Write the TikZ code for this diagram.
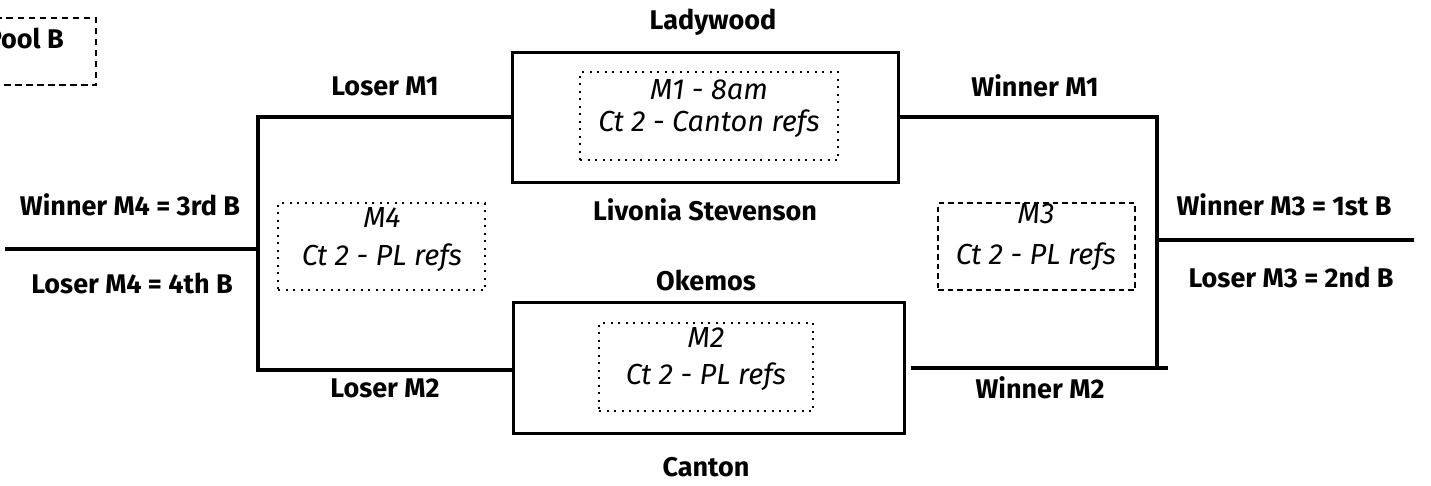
\documentclass[tikz,border=0pt]{standalone}
\usepackage{fontspec}
\setmainfont{Fira Sans}
\begin{document}
\begin{tikzpicture}[x=1pt,y=-1pt,
  lbl/.style={font=\bfseries\fontsize{27}{30}\selectfont, inner sep=0pt, anchor=center},
  gm/.style={font=\itshape\fontsize{29}{33}\selectfont, inner sep=0pt, anchor=center},
  wire/.style={line width=3.4pt},
  outerbox/.style={draw, line width=3pt, inner sep=0pt},
  dotbox/.style={draw, line width=2pt, dash pattern=on 2pt off 5.5pt, inner sep=0pt},
  dashbox/.style={draw, line width=2pt, dash pattern=on 5.5pt off 4pt, inner sep=0pt}]
\useasboundingbox (0,0) rectangle (1431,485);
% Pool B box (cut off)
\node[draw, line width=2.4pt, dash pattern=on 6.5pt off 4.5pt, minimum width=180pt, minimum height=67pt, inner sep=0pt] (pool) at (6,51.5) {};
\node[lbl, anchor=east] (pooltxt) at (64,38) {Pool B};
% M1 box
\node[outerbox, minimum width=386pt, minimum height=130pt] (m1box) at (705,117) {};
\node[dotbox, minimum width=258pt, minimum height=88pt] (m1in) at (709,116) {};
\node[gm] (m1a) at (709,90) {M1 - 8am};
\node[gm] (m1b) at (709,124) {Ct 2 - Canton refs};
\node[lbl] (lady) at (713,22) {Ladywood};
\node[lbl] (livo) at (705,210) {Livonia Stevenson};
% M2 box
\node[outerbox, minimum width=391pt, minimum height=131pt] (m2box) at (708.5,367.5) {};
\node[dotbox, minimum width=214pt, minimum height=88pt] (m2in) at (706,367) {};
\node[gm] (m2a) at (706,338) {M2};
\node[gm] (m2b) at (706,377) {Ct 2 - PL refs};
\node[lbl] (okem) at (706,280) {Okemos};
\node[lbl] (cant) at (706,467) {Canton};
% M4 box
\node[dotbox, minimum width=207pt, minimum height=87pt] (m4in) at (381.5,246.5) {};
\node[gm] (m4a) at (382,218) {M4};
\node[gm] (m4b) at (382,258) {Ct 2 - PL refs};
% M3 box
\node[dashbox, minimum width=197pt, minimum height=87pt] (m3in) at (1036.5,246.5) {};
\node[gm] (m3a) at (1036,214) {M3};
\node[gm] (m3b) at (1036,257) {Ct 2 - PL refs};
% connectors
\coordinate (lt) at (258,117);
\coordinate (lb) at (258,370);
\coordinate (lm) at (258,249);
\coordinate (lend) at (5,249);
\coordinate (rt) at (1157,117);
\coordinate (rb) at (1157,368);
\coordinate (rbend) at (1168,368);
\coordinate (rm) at (1157,240);
\coordinate (rend) at (1414,240);
\draw[wire] (m1box.west) -- (lt) -- (lb) -- (m2box.west |- lb);
\draw[wire] (lm) -- (lend);
\draw[wire] (m1box.east) -- (rt) -- (rb);
\draw[wire] ([xshift=5pt]m2box.east |- rb) -- (rbend);
\draw[wire] (rm) -- (rend);
% labels
\node[lbl] (lm1) at (385,86) {Loser M1};
\node[lbl] (wm1) at (1035,86) {Winner M1};
\node[lbl] (lm2) at (385,388) {Loser M2};
\node[lbl] (wm2) at (1040,388) {Winner M2};
\node[lbl] (wm4) at (130,205) {Winner M4 = 3rd B};
\node[lbl] (lm4) at (132,283) {Loser M4 = 4th B};
\node[lbl] (wm3) at (1284,205) {Winner M3 = 1st B};
\node[lbl] (lm3) at (1291,277) {Loser M3 = 2nd B};
\end{tikzpicture}
\end{document}
